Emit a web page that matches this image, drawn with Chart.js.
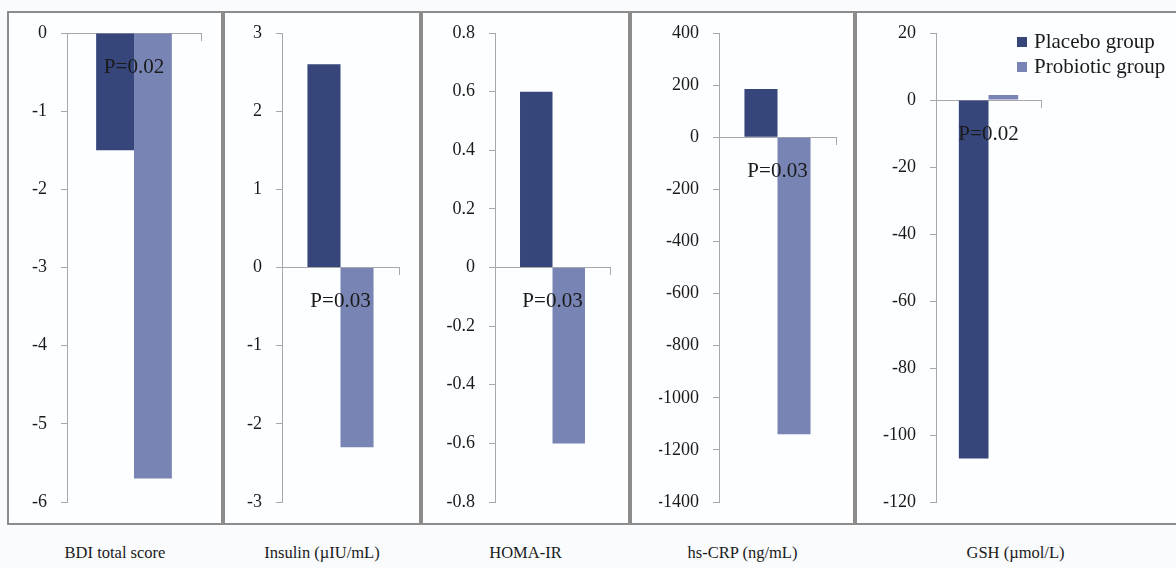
<!DOCTYPE html>
<html>
<head>
<meta charset="utf-8">
<script src="https://cdn.jsdelivr.net/npm/chart.js@4.4.1/dist/chart.umd.min.js"></script>
<style>
    body {
        margin: 0;
        width: 1176px;
        height: 568px;
        background: #f9fbfc;
        position: relative;
        overflow: hidden;
        font-family: 'Liberation Serif', 'Times New Roman', serif;
        color: #1a1a1a;
    }
    .panel {
        position: absolute;
        top: 11px;
        height: 514px;
        box-sizing: border-box;
        border: 2px solid #8c8c8c;
        background: #fdfeff;
    }
    canvas { position: absolute; top: 0; }
    .cat {
        position: absolute;
        top: 543px;
        font-size: 16.5px;
        text-align: center;
        white-space: nowrap;
    }
    .leg {
        position: absolute;
        left: 1017px;
        font-size: 21px;
        line-height: 25px;
        white-space: nowrap;
    }
    .leg span {
        display: inline-block;
        width: 10px;
        height: 10px;
        margin-right: 7px;
        vertical-align: 1px;
    }
</style>
</head>
<body>
<div id="stage"></div>
<script>
// =========================
// DATA
// =========================
const categories = ['BDI total score', 'Insulin (µIU/mL)', 'HOMA-IR', 'hs-CRP (ng/mL)', 'GSH (µmol/L)'];
const seriesNames = ['Placebo group', 'Probiotic group'];
const placebo = [-1.5, 2.6, 0.6, 185, -107];
const probiotic = [-5.7, -2.3, -0.6, -1140, 1.5];
const pValues = ['P=0.02', 'P=0.03', 'P=0.03', 'P=0.03', 'P=0.02'];
const yTicks = [
    [0, -1, -2, -3, -4, -5, -6],
    [3, 2, 1, 0, -1, -2, -3],
    [0.8, 0.6, 0.4, 0.2, 0, -0.2, -0.4, -0.6, -0.8],
    [400, 200, 0, -200, -400, -600, -800, -1000, -1200, -1400],
    [20, 0, -20, -40, -60, -80, -100, -120]
];

// =========================
// LAYOUT / STYLE
// =========================
const colors = ['#36467a', '#7885b4'];
const panelBox = [[7, 223], [223, 421], [421, 630], [630, 855], [855, 1180]];
const axisX = [67, 282, 495, 719, 936];
const plotW = [134, 117, 115, 117, 105];
const AXIS_W = 60;
const RIGHT_PAD = 12;
const gray = '#a8a8a8';
const serif = 'Liberation Serif';

Chart.defaults.font.family = serif;
Chart.defaults.color = '#1a1a1a';

// P-value text under the zero line
const pLabel = {
    id: 'pLabel',
    afterDatasetsDraw(chart, args, opts) {
        const { ctx, scales: { x, y } } = chart;
        ctx.save();
        ctx.font = '21px "Liberation Serif"';
        ctx.fillStyle = '#1a1a1a';
        ctx.textAlign = 'center';
        ctx.textBaseline = 'middle';
        ctx.fillText(opts.text, x.getPixelForValue(0), y.getPixelForValue(0) + 34);
        ctx.restore();
    }
};

const stage = document.getElementById('stage');

// =========================
// PANELS
// =========================
categories.forEach((cat, i) => {
    const box = document.createElement('div');
    box.className = 'panel';
    box.style.left = panelBox[i][0] + 'px';
    box.style.width = (panelBox[i][1] - panelBox[i][0]) + 'px';
    stage.appendChild(box);

    const lbl = document.createElement('div');
    lbl.className = 'cat';
    lbl.textContent = cat;
    const mid = (panelBox[i][0] + Math.min(panelBox[i][1], 1176)) / 2;
    lbl.style.left = (mid - 150) + 'px';
    lbl.style.width = '300px';
    stage.appendChild(lbl);
});

categories.forEach((cat, i) => {
    const canvas = document.createElement('canvas');
    const w = AXIS_W + plotW[i] + RIGHT_PAD;
    canvas.width = w;
    canvas.height = 568;
    canvas.style.left = (axisX[i] - AXIS_W) + 'px';
    stage.appendChild(canvas);

    const ticks = yTicks[i];

    new Chart(canvas.getContext('2d'), {
        type: 'bar',
        data: {
            labels: [cat],
            datasets: [
                { label: seriesNames[0], data: [placebo[i]], backgroundColor: colors[0] },
                { label: seriesNames[1], data: [probiotic[i]], backgroundColor: colors[1] }
            ]
        },
        options: {
            responsive: false,
            animation: false,
            layout: { padding: { top: 33, bottom: 66, left: 0, right: RIGHT_PAD } },
            datasets: { bar: { categoryPercentage: 0.565, barPercentage: 1 } },
            plugins: {
                legend: { display: false },
                tooltip: { enabled: false },
                pLabel: { text: pValues[i] }
            },
            scales: {
                x: {
                    position: { y: 0 },
                    grid: { offset: true, drawOnChartArea: false, tickLength: 7, color: gray },
                    border: { color: gray },
                    ticks: { display: false },
                    afterFit: s => { s.height = 0; }
                },
                y: {
                    min: Math.min(...ticks),
                    max: Math.max(...ticks),
                    afterBuildTicks: s => { s.ticks = ticks.map(v => ({ value: v })); },
                    afterFit: s => { s.width = AXIS_W; },
                    grid: { drawOnChartArea: false, tickLength: 6, color: gray },
                    border: { color: gray },
                    ticks: {
                        padding: 14,
                        color: '#1a1a1a',
                        font: { family: serif, size: 18 },
                        callback: v => String(v)
                    }
                }
            }
        },
        plugins: [pLabel]
    });
});

// =========================
// LEGEND
// =========================
seriesNames.forEach((name, k) => {
    const d = document.createElement('div');
    d.className = 'leg';
    d.style.top = (29 + k * 25) + 'px';
    const sw = document.createElement('span');
    sw.style.background = colors[k];
    d.appendChild(sw);
    d.appendChild(document.createTextNode(name));
    stage.appendChild(d);
});
</script>
</body>
</html>
